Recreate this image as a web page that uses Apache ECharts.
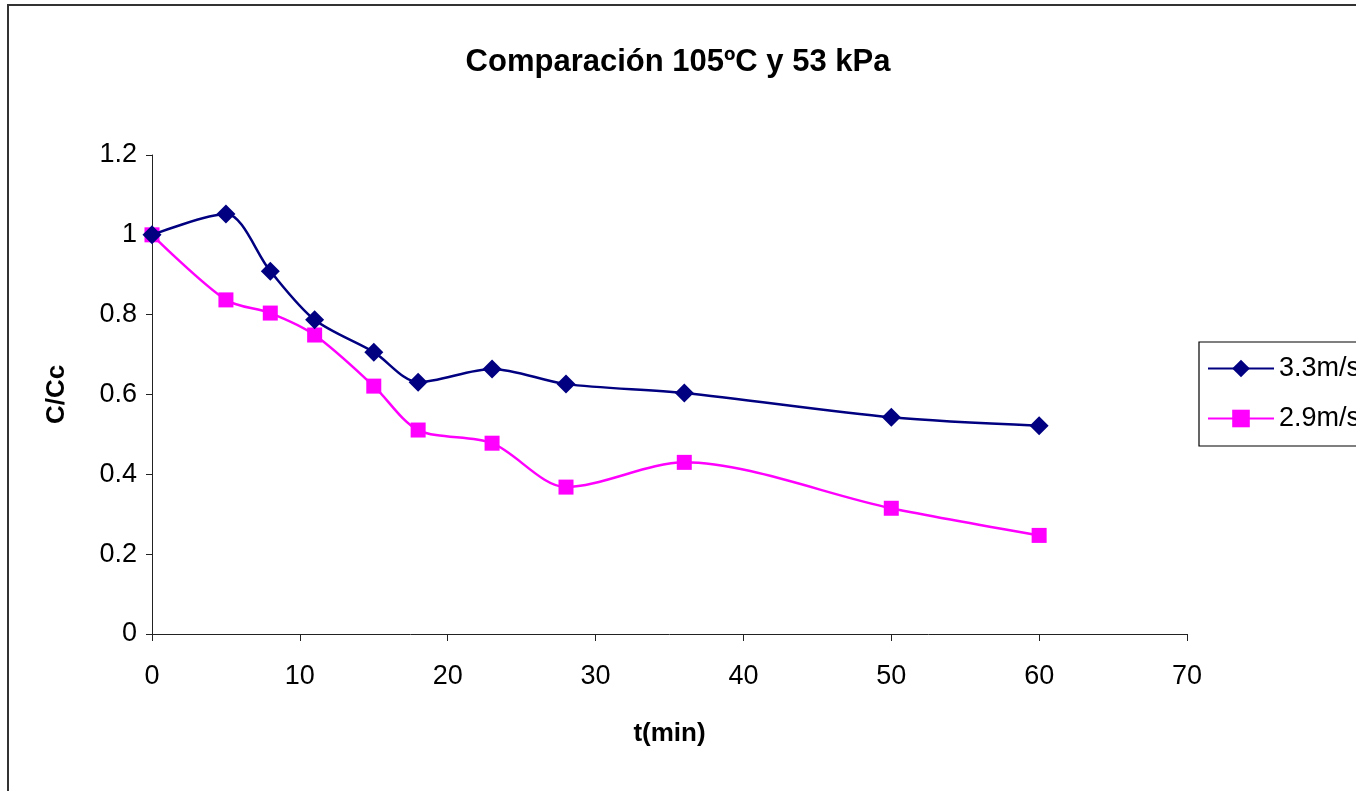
<!DOCTYPE html>
<html>
<head>
<meta charset="utf-8">
<script src="https://cdn.jsdelivr.net/npm/echarts@6/dist/echarts.min.js"></script>
<style>
html,body{margin:0;padding:0;background:#fff;}
#chart{width:1356px;height:791px;}
</style>
</head>
<body>
<div id="chart"></div>
<script>
const titleText = 'Comparación 105ºC y 53 kPa';
const xName = 't(min)';
const yName = 'C/Cc';
const times = [0, 5, 8, 11, 15, 18, 23, 28, 36, 50, 60];
const seriesNames = ['3.3m/s', '2.9m/s'];
const v33 = [1.0, 1.052, 0.909, 0.787, 0.706, 0.631, 0.664, 0.626, 0.604, 0.543, 0.522];
const v29 = [1.0, 0.837, 0.804, 0.749, 0.621, 0.511, 0.478, 0.368, 0.430, 0.315, 0.247];

const pair = (xs, ys) => xs.map((x, i) => [x, ys[i]]);
const font = '"Liberation Sans", Arial, sans-serif';

const chart = echarts.init(document.getElementById('chart'), null, {renderer: 'canvas'});
chart.setOption({
  backgroundColor: '#ffffff',
  animation: false,
  title: {
    text: titleText,
    left: 'center',
    top: 42,
    textStyle: {fontFamily: font, fontSize: 31, fontWeight: 'bold', color: '#000'}
  },
  graphic: [{
    type: 'rect',
    shape: {x: 8, y: 5, width: 1400, height: 900},
    style: {fill: 'none', stroke: '#333', lineWidth: 2},
    silent: true
  }],
  legend: {
    orient: 'vertical',
    left: 1199,
    top: 342,
    itemWidth: 66,
    itemHeight: 22,
    itemGap: 23,
    padding: [13, 10, 14, 8],
    borderColor: '#000',
    borderWidth: 1.2,
    textStyle: {fontFamily: font, fontSize: 27, color: '#000', padding: [0, 0, 0, 0]},
    data: seriesNames
  },
  grid: {left: 152, top: 155, right: 169, bottom: 157, containLabel: false},
  xAxis: {
    type: 'value',
    min: 0, max: 70, interval: 10,
    name: xName,
    nameLocation: 'middle',
    nameGap: 87,
    nameTextStyle: {fontFamily: font, fontSize: 26, fontWeight: 'bold', color: '#000'},
    axisLine: {lineStyle: {color: '#222', width: 1}},
    axisTick: {show: true, length: 7, lineStyle: {color: '#222'}},
    axisLabel: {fontFamily: font, fontSize: 27, color: '#000', margin: 29},
    splitLine: {show: false}
  },
  yAxis: {
    type: 'value',
    min: 0, max: 1.2, interval: 0.2,
    name: yName,
    nameLocation: 'middle',
    nameGap: 82,
    nameTextStyle: {fontFamily: font, fontSize: 26, fontWeight: 'bold', color: '#000'},
    axisLine: {show: true, lineStyle: {color: '#222', width: 1}},
    axisTick: {show: true, length: 6, lineStyle: {color: '#222'}},
    axisLabel: {fontFamily: font, fontSize: 27, color: '#000', margin: 15,
      formatter: v => String(Math.round(v * 10) / 10)},
    splitLine: {show: false}
  },
  series: [
    {
      name: seriesNames[0],
      type: 'line',
      data: pair(times, v33),
      smooth: 0.3,
      symbol: 'diamond',
      symbolSize: 19,
      lineStyle: {color: '#000080', width: 2.5},
      itemStyle: {color: '#000080'},
      z: 3
    },
    {
      name: seriesNames[1],
      type: 'line',
      data: pair(times, v29),
      smooth: 0.3,
      symbol: 'rect',
      symbolSize: 15,
      lineStyle: {color: '#FF00FF', width: 2.5},
      itemStyle: {color: '#FF00FF'},
      z: 2
    }
  ]
});
</script>
</body>
</html>
